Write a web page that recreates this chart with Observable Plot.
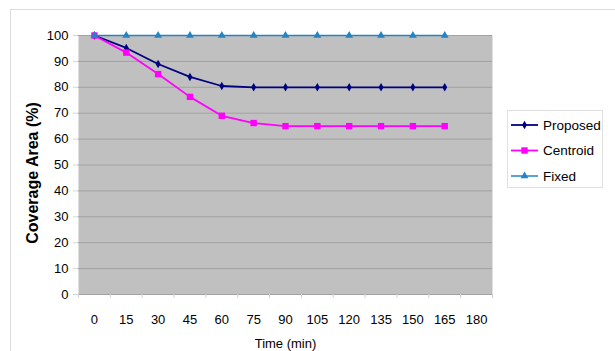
<!DOCTYPE html>
<html>
<head>
<meta charset="utf-8">
<script src="https://cdn.jsdelivr.net/npm/d3@7"></script>
<script src="https://cdn.jsdelivr.net/npm/@observablehq/plot@0.6"></script>
<style>
  html, body { margin: 0; padding: 0; background: #fff; overflow: hidden; }
  #wrap { position: relative; width: 615px; height: 351px; font-family: "Liberation Sans", Arial, sans-serif; }
  #wrap > svg.chart { position: absolute; left: 0; top: 0; }
  #wrap > svg#legend { position: absolute; left: 507px; top: 110px; }
  #border { position: absolute; left: 10px; top: 9px; width: 700px; height: 400px;
            border: 1px solid #dcdcdc; pointer-events: none; }
</style>
</head>
<body>
<div id="wrap"></div>
<script>
// Coverage area over time for three node-placement strategies
const times = [0, 15, 30, 45, 60, 75, 90, 105, 120, 135, 150, 165];
const proposed = [100, 95.2, 89, 84, 80.5, 80, 80, 80, 80, 80, 80, 80];
const centroid = [100, 93.4, 85.1, 76.3, 69, 66.2, 65, 65, 65, 65, 65, 65];
const fixed = [100, 100, 100, 100, 100, 100, 100, 100, 100, 100, 100, 100];

const xTicks = [0, 15, 30, 45, 60, 75, 90, 105, 120, 135, 150, 165, 180];
const yTicks = [0, 10, 20, 30, 40, 50, 60, 70, 80, 90, 100];

const seriesNames = ["Proposed", "Centroid", "Fixed"];
const seriesValues = [proposed, centroid, fixed];
const seriesColors = ["#000080", "#ff00ff", "#2484c2"];
const seriesSymbols = ["diamond", "square", "triangle"];
const seriesRadii = [2.6, 3.6, 2.9];
const seriesWidths = [1.8, 1.8, 1.5];

// category slots are 15 minutes wide; tick marks sit on slot boundaries
const halfSlot = 7.5;
const slotEdges = [xTicks[0] - halfSlot, ...xTicks.map(t => t + halfSlot)];

const seriesMarks = seriesNames.flatMap((name, i) => [
  Plot.line(times, {x: times, y: seriesValues[i], stroke: seriesColors[i], strokeWidth: seriesWidths[i]}),
  Plot.dot(times, {x: times, y: seriesValues[i], symbol: seriesSymbols[i], r: seriesRadii[i],
                   fill: seriesColors[i], stroke: "none"})
]);

const chart = Plot.plot({
  width: 615,
  height: 351,
  marginLeft: 78,
  marginRight: 123,
  marginTop: 35,
  marginBottom: 57,
  className: "chart",
  style: {background: "transparent", fontFamily: "Liberation Sans, Arial, sans-serif", fontSize: "13px", color: "#000"},
  x: {type: "linear", domain: [slotEdges[0], slotEdges[slotEdges.length - 1]]},
  y: {domain: [0, 100]},
  marks: [
    Plot.frame({fill: "#c0c0c0", stroke: "none"}),
    Plot.gridY(yTicks, {stroke: "#a2a2a2", strokeOpacity: 1}),
    Plot.axisY(yTicks, {tickSize: 5, tickPadding: 5, stroke: "#d4d4d4", fill: "#000", label: null}),
    Plot.axisX(slotEdges, {tickSize: 4, tickFormat: () => "", stroke: "#d4d4d4", label: null}),
    Plot.axisX(xTicks, {tickSize: 0, tickPadding: 20, fill: "#000", label: null}),
    Plot.text(["Coverage Area (%)"], {text: d => d, frameAnchor: "left", textAnchor: "middle", lineAnchor: "middle",
                                      dx: -46, dy: 8, rotate: -90, fontWeight: "bold", fontSize: 16, fill: "#000"}),
    Plot.text(["Time (min)"], {text: d => d, frameAnchor: "bottom", lineAnchor: "middle", dy: 49,
                               fontSize: 13, fill: "#000"}),
    ...seriesMarks
  ]
});
chart.classList.add("chart");

const wrap = document.getElementById("wrap");
wrap.appendChild(chart);

// legend box on the right
const legend = d3.select(wrap).append("svg")
  .attr("id", "legend")
  .attr("width", 97)
  .attr("height", 79)
  .style("font-family", "Liberation Sans, Arial, sans-serif");
legend.append("rect")
  .attr("x", 0.5).attr("y", 0.5).attr("width", 95).attr("height", 77)
  .attr("fill", "#fff").attr("stroke", "#e0e0e0");
const symbolTypes = {diamond: d3.symbolDiamond, square: d3.symbolSquare, triangle: d3.symbolTriangle};
seriesNames.forEach((name, i) => {
  const cy = 15 + i * 25.5;
  const row = legend.append("g").attr("transform", `translate(0,${cy})`);
  row.append("line").attr("x1", 4).attr("x2", 31).attr("y1", 0).attr("y2", 0)
    .attr("stroke", seriesColors[i]).attr("stroke-width", seriesWidths[i]);
  row.append("path")
    .attr("transform", "translate(17.5,0)")
    .attr("d", d3.symbol(symbolTypes[seriesSymbols[i]], Math.PI * seriesRadii[i] ** 2)())
    .attr("fill", seriesColors[i]);
  row.append("text").attr("x", 36).attr("y", 0).attr("dy", "0.35em")
    .attr("font-size", 13.5).attr("fill", "#000").text(name);
});

d3.select(wrap).append("div").attr("id", "border");
</script>
</body>
</html>
